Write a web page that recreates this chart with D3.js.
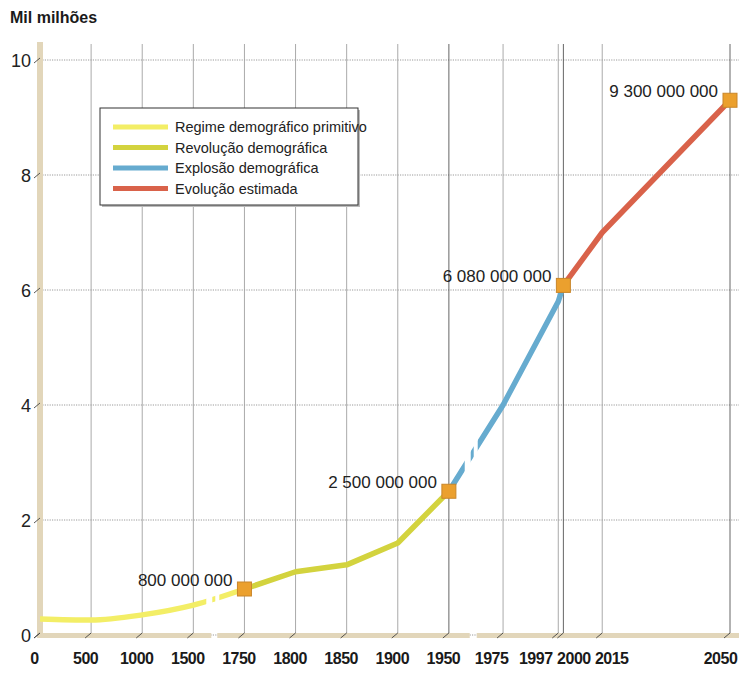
<!DOCTYPE html>
<meta charset="utf-8">
<style>
  body { margin: 0; background: #fff; }
  #chart svg { display: block; font-family: "Liberation Sans", Arial, sans-serif; }
  .xlab { font-family: "Liberation Sans", Arial, sans-serif; font-weight: 700; font-size: 16px; letter-spacing: -0.5px; fill: #1a1a1a; }
  .ylab { font-size: 18px; fill: #222; }
  .val { font-size: 17px; fill: #222; }
  .leg { font-size: 14.5px; fill: #222; }
</style>
<body>
<div id="chart"></div>
<script src="https://d3js.org/d3.v7.min.js"></script>
<script>
  // anos no eixo e população (mil milhões)
  const years = [0, 500, 1000, 1500, 1750, 1800, 1850, 1900, 1950, 1975, 1997, 2000, 2015, 2050]
  const population = [0.28, 0.26, 0.35, 0.52, 0.8, 1.1, 1.22, 1.6, 2.5, 4.0, 5.8, 6.08, 7.0, 9.3]
  // posição relativa de cada ano no eixo (eixo não é linear)
  const slots = [0, 1, 2, 3, 4, 5, 6, 7, 8, 9.06, 10.14, 10.24, 11.0, 13.5]
  const yTicks = [0, 2, 4, 6, 8, 10]

  const phases = ["Regime demográfico primitivo", "Revolução demográfica", "Explosão demográfica", "Evolução estimada"]
  const phaseColors = ["#f3ee66", "#d3d33e", "#66abcf", "#d9624a"]
  const phaseRanges = [[0, 1750], [1750, 1950], [1950, 2000], [2000, 2050]]

  const marked = [1750, 1950, 2000, 2050]
  const markedLabels = ["800 000 000", "2 500 000 000", "6 080 000 000", "9 300 000 000"]

  // quebras do eixo (entre 1500-1750 e 1950-1975)
  const breaks = [[1500, 1750, 0.41], [1950, 1975, 0.44]]

  const W = 739, H = 673
  const margin = { top: 60, right: 9, bottom: 38, left: 40 }

  // the crowded labels at the end of the axis are nudged apart
  const labelNudge = { 1975: -6, 1997: -17, 2000: 16, 2015: 15, 2050: -4 }

  const svg = d3.select("#chart").append("svg")
    .attr("width", W).attr("height", H)

  const x = d3.scaleLinear()
    .domain(years)
    .range(slots.map(s => margin.left + s * (W - margin.left - margin.right) / 13.5))
  const y = d3.scaleLinear().domain([0, 10]).range([H - margin.bottom, margin.top])

  const y0 = y(0)
  const topY = y(10) - 16
  const breakX = breaks.map(b => x(b[0]) + (x(b[1]) - x(b[0])) * b[2])

  // title
  svg.append("text").attr("x", 10).attr("y", 23)
    .attr("font-weight", 700).attr("font-size", 16).attr("fill", "#1a1a1a")
    .text("Mil milhões")

  // horizontal dotted grid
  svg.append("g").selectAll("line").data(yTicks).join("line")
    .attr("x1", x(0)).attr("x2", W)
    .attr("y1", d => y(d)).attr("y2", d => y(d))
    .attr("stroke", "#9a9a9a").attr("stroke-width", 1)
    .attr("stroke-dasharray", "1.2,1.2")

  // vertical grid
  svg.append("g").selectAll("line").data(years.slice(1)).join("line")
    .attr("x1", d => x(d)).attr("x2", d => x(d))
    .attr("y1", topY).attr("y2", y0)
    .attr("stroke", d => (d === 1950 || d === 2000 || d === 2050) ? "#555" : "#a0a0a0")
    .attr("stroke-width", 0.9)

  // beige axis bands
  const band = "#e2d6ba"
  svg.append("rect").attr("x", x(0) - 3).attr("y", topY - 2)
    .attr("width", 6).attr("height", y0 - topY + 5).attr("fill", band)
  const segEdges = [x(0) - 3, breakX[0] - 3, breakX[0] + 3, breakX[1] - 3, breakX[1] + 4, W]
  for (let i = 0; i < segEdges.length; i += 2) {
    svg.append("rect").attr("x", segEdges[i]).attr("y", y0 - 2)
      .attr("width", segEdges[i + 1] - segEdges[i]).attr("height", 5).attr("fill", band)
  }

  // little slanted ticks
  svg.append("g").selectAll("line").data(years).join("line")
    .attr("x1", d => x(d) - 6).attr("y1", y0 + 3)
    .attr("x2", d => x(d)).attr("y2", y0 - 2)
    .attr("stroke", "#444").attr("stroke-width", 0.9)
  svg.append("g").selectAll("line").data(yTicks).join("line")
    .attr("x1", x(0) - 6).attr("y1", d => y(d) + 3)
    .attr("x2", x(0)).attr("y2", d => y(d) - 2)
    .attr("stroke", "#444").attr("stroke-width", 0.9)

  // axis labels
  const xAxis = svg.append("g").attr("transform", `translate(0,${y0})`)
    .call(d3.axisBottom(x).tickValues(years).tickSize(0).tickPadding(14).tickFormat(d3.format("d")))
  xAxis.select(".domain").remove()
  xAxis.selectAll("text").attr("class", "xlab").attr("dy", "0.95em")
    .attr("dx", d => -6 + (labelNudge[d] || 0))

  const yAxis = svg.append("g").attr("transform", `translate(${x(0) - 7},0)`)
    .call(d3.axisLeft(y).tickValues(yTicks).tickSize(0).tickPadding(2))
  yAxis.select(".domain").remove()
  yAxis.selectAll("text").attr("class", "ylab").attr("dy", "0.36em")

  // clip out the gaps where the axis is broken
  const clip = svg.append("defs").append("clipPath").attr("id", "gaps")
  const cuts = []
  breakX.forEach(bx => { cuts.push([bx - 8, bx - 2], [bx + 1, bx + 5]) })
  let prev = 0
  cuts.forEach(c => {
    clip.append("rect").attr("x", prev).attr("y", 0).attr("width", c[0] - prev).attr("height", H)
    prev = c[1]
  })
  clip.append("rect").attr("x", prev).attr("y", 0).attr("width", W - prev).attr("height", H)

  const pts = years.map((yr, i) => ({ yr, v: population[i] }))
  const line = d3.line().x(d => x(d.yr)).y(d => y(d.v))

  phaseRanges.forEach((r, i) => {
    const seg = pts.filter(p => p.yr >= r[0] && p.yr <= r[1])
    svg.append("path").datum(seg)
      .attr("d", line.curve(i === 0 ? d3.curveMonotoneX : d3.curveLinear))
      .attr("fill", "none")
      .attr("stroke", phaseColors[i])
      .attr("stroke-width", 5.5)
      .attr("stroke-linejoin", "round")
      .attr("clip-path", "url(#gaps)")
  })

  // markers and labels
  const mk = marked.map((yr, i) => ({ yr, v: population[years.indexOf(yr)], label: markedLabels[i] }))
  svg.append("g").selectAll("rect").data(mk).join("rect")
    .attr("x", d => x(d.yr) - 7).attr("y", d => y(d.v) - 7)
    .attr("width", 14).attr("height", 14)
    .attr("fill", "#eba02e").attr("stroke", "#c9862a").attr("stroke-width", 1)
  svg.append("g").selectAll("text").data(mk).join("text")
    .attr("class", "val")
    .attr("x", d => x(d.yr) - 12).attr("y", d => y(d.v) - 3)
    .attr("text-anchor", "end")
    .text(d => d.label)

  // legend
  const lg = svg.append("g").attr("transform", "translate(100,108)")
  lg.append("rect").attr("x", 2).attr("y", 2).attr("width", 258).attr("height", 97).attr("fill", "#bbb")
  lg.append("rect").attr("width", 258).attr("height", 97)
    .attr("fill", "#fff").attr("stroke", "#333").attr("stroke-width", 1)
  phases.forEach((p, i) => {
    const cy = 19 + i * 20.5
    lg.append("line").attr("x1", 13).attr("x2", 68).attr("y1", cy).attr("y2", cy)
      .attr("stroke", phaseColors[i]).attr("stroke-width", 5)
    lg.append("text").attr("class", "leg").attr("x", 75).attr("y", cy + 5).text(p)
  })
</script>
</body>
